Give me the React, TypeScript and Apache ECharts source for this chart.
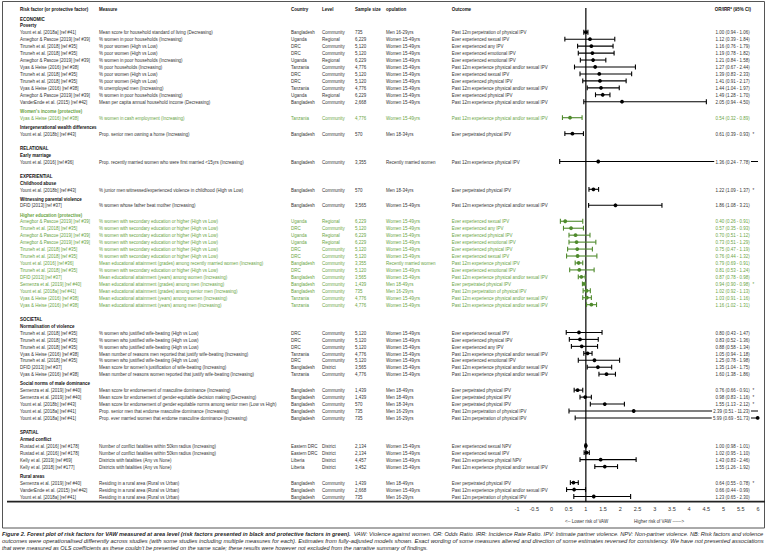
import React, { useEffect, useRef } from "react";
import * as echarts from "echarts";

const sectionNames = ["ECONOMIC", "RELATIONAL", "EXPERIENTIAL", "SOCIETAL", "SPATIAL"];
const subgroupNames = [
  "Poverty", "Women's income (protective)", "Intergenerational wealth differences", "Early marriage",
  "Childhood abuse", "Witnessing parental violence", "Higher education (protective)",
  "Normalisation of violence", "Social norms of male dominance", "Armed conflict", "Rural areas",
];
const subgroupSection = [0, 0, 0, 1, 2, 2, 2, 3, 3, 4, 4];
const subgroupSizes = [11, 1, 1, 1, 1, 1, 13, 7, 5, 4, 3];
const subgroupProtective = [false, true, false, false, false, false, true, false, false, false, false];

const headers = ["Risk factor (or protective factor)", "Measure", "Country", "Level", "Sample size", "opulation", "Outcome", "OR/IRR* (95% CI)"];

const studies = [
  "Yount et al. [2018a] [ref #41]", "Amegbor & Pascoe [2019] [ref #39]", "Tiruneh et al. [2018] [ref #35]", "Tiruneh et al. [2018] [ref #35]",
  "Amegbor & Pascoe [2019] [ref #39]", "Vyas & Heise (2016) [ref #38]", "Tiruneh et al. [2018] [ref #35]", "Tiruneh et al. [2018] [ref #35]",
  "Vyas & Heise (2016) [ref #38]", "Amegbor & Pascoe [2019] [ref #39]", "VanderEnde et al. (2015) [ref #42]",
  "Vyas & Heise (2016) [ref #38]",
  "Yount et al. [2018b] [ref #43]",
  "Yount et al. [2016] [ref #36]",
  "Yount et al. [2018b] [ref #43]",
  "DFID [2013] [ref #37]",
  "Amegbor & Pascoe [2019] [ref #39]", "Tiruneh et al. [2018] [ref #35]", "Amegbor & Pascoe [2019] [ref #39]", "Amegbor & Pascoe [2019] [ref #39]",
  "Tiruneh et al. [2018] [ref #35]", "Tiruneh et al. [2018] [ref #35]", "Yount et al. [2016] [ref #36]", "Tiruneh et al. [2018] [ref #35]",
  "DFID [2013] [ref #37]", "Semenza et al. [2019] [ref #40]", "Yount et al. [2018a] [ref #41]", "Vyas & Heise (2016) [ref #38]",
  "Vyas & Heise (2016) [ref #38]",
  "Tiruneh et al. [2018] [ref #35]", "Tiruneh et al. [2018] [ref #35]", "Tiruneh et al. [2018] [ref #35]", "Vyas & Heise (2016) [ref #38]",
  "Tiruneh et al. [2018] [ref #35]", "DFID [2013] [ref #37]", "Vyas & Heise (2016) [ref #38]",
  "Semenza et al. [2019] [ref #40]", "Semenza et al. [2019] [ref #40]", "Yount et al. [2018b] [ref #43]", "Yount et al. [2018a] [ref #41]",
  "Yount et al. [2018a] [ref #41]",
  "Rustad et al. [2016] [ref #178]", "Rustad et al. [2016] [ref #178]", "Kelly et al. [2019] [ref #69]", "Kelly et al. [2018] [ref #177]",
  "Semenza et al. [2019] [ref #40]", "VanderEnde et al. (2015) [ref #42]", "Yount et al. [2018a] [ref #41]",
];

const measures = [
  "Mean score for household standard of living (Decreasing)", "% women in poor households (Increasing)", "% poor women (High vs Low)",
  "% poor women (High vs Low)", "% women in poor households (Increasing)", "% poor households (Increasing)", "% poor women (High vs Low)",
  "% poor women (High vs Low)", "% unemployed men (Increasing)", "% women in poor households (Increasing)",
  "Mean per capita annual household income (Decreasing)",
  "% women in cash employment (Increasing)",
  "Prop. senior men owning a home (Increasing)",
  "Prop. recently married women who were first married <15yrs (Increasing)",
  "% junior men witnessed/experienced violence in childhood (High vs Low)",
  "% women whose father beat mother (Increasing)",
  "% women with secondary education or higher (High vs Low)", "% women with secondary education or higher (High vs Low)",
  "% women with secondary education or higher (High vs Low)", "% women with secondary education or higher (High vs Low)",
  "% women with secondary education or higher (High vs Low)", "% women with secondary education or higher (High vs Low)",
  "Mean educational attainment (grades) among recently married women (Increasing)",
  "% women with secondary education or higher (High vs Low)",
  "Mean educational attainment (years) among women (Increasing)", "Mean educational attainment (grades) among men (Increasing)",
  "Mean educational attainment (grades) among senior men (Increasing)", "Mean educational attainment (years) among women (Increasing)",
  "Mean educational attainment (years) among men (Increasing)",
  "% women who justified wife-beating (High vs Low)", "% women who justified wife-beating (High vs Low)",
  "% women who justified wife-beating (High vs Low)", "Mean number of reasons men reported that justify wife-beating (Increasing)",
  "% women who justified wife-beating (High vs Low)", "Mean score for women's justification of wife-beating (Increasing)",
  "Mean number of reasons women reported that justify wife-beating (Increasing)",
  "Mean score for endorsement of masculine dominance (Increasing)",
  "Mean score for endorsement of gender-equitable decision making (Decreasing)",
  "Mean score for endorsement of gender equitable norms among senior men (Low vs High)",
  "Prop. senior men that endorse masculine dominance (Increasing)",
  "Prop. ever married women that endorse masculine dominance (Increasing)",
  "Number of conflict fatalities within 50km radius (Increasing)", "Number of conflict fatalities within 50km radius (Increasing)",
  "Districts with fatalities (Any vs None)", "Districts with fatalities (Any vs None)",
  "Residing in a rural area (Rural vs Urban)", "Residing in a rural area (Rural vs Urban)", "Residing in a rural area (Rural vs Urban)",
];

const countries = [
  "Bangladesh", "Uganda", "DRC", "DRC", "Uganda", "Tanzania", "DRC", "DRC", "Tanzania", "Uganda", "Bangladesh",
  "Tanzania", "Bangladesh", "Bangladesh", "Bangladesh", "Bangladesh",
  "Uganda", "DRC", "Uganda", "Uganda", "DRC", "DRC", "Bangladesh", "DRC", "Bangladesh", "Bangladesh", "Bangladesh", "Tanzania", "Tanzania",
  "DRC", "DRC", "DRC", "Tanzania", "DRC", "Bangladesh", "Tanzania",
  "Bangladesh", "Bangladesh", "Bangladesh", "Bangladesh", "Bangladesh",
  "Eastern DRC", "Eastern DRC", "Liberia", "Liberia",
  "Bangladesh", "Bangladesh", "Bangladesh",
];

const levels = [
  "Community", "Regional", "Community", "Community", "Regional", "Community", "Community", "Community", "Community", "Regional", "Community",
  "Community", "Community", "Community", "Community", "Community",
  "Regional", "Community", "Regional", "Regional", "Community", "Community", "Community", "Community", "Community", "Community", "Community", "Community", "Community",
  "Community", "Community", "Community", "Community", "Community", "District", "Community",
  "Community", "Community", "Community", "Community", "Community",
  "District", "District", "District", "District",
  "Community", "Community", "Community",
];

const sampleSizes = [
  735, 6229, 5120, 5120, 6229, 4776, 5120, 5120, 4776, 6229, 2668,
  4776, 570, 3355, 570, 3565,
  6229, 5120, 6229, 6229, 5120, 5120, 3355, 5120, 3565, 1439, 735, 4776, 4776,
  5120, 5120, 5120, 4776, 5120, 3565, 4776,
  1439, 1439, 570, 735, 735,
  2134, 2134, 4457, 3452,
  1439, 2668, 735,
];

const populations = [
  "Men 16-29yrs", "Women 15-49yrs", "Women 15-49yrs", "Women 15-49yrs", "Women 15-49yrs", "Women 15-49yrs", "Women 15-49yrs",
  "Women 15-49yrs", "Women 15-49yrs", "Women 15-49yrs", "Women 15-49yrs",
  "Women 15-49yrs", "Men 18-34yrs", "Recently married women", "Men 18-34yrs", "Women 15-49yrs",
  "Women 15-49yrs", "Women 15-49yrs", "Women 15-49yrs", "Women 15-49yrs", "Women 15-49yrs", "Women 15-49yrs", "Recently married women",
  "Women 15-49yrs", "Women 15-49yrs", "Men 18-49yrs", "Men 16-29yrs", "Women 15-49yrs", "Women 15-49yrs",
  "Women 15-49yrs", "Women 15-49yrs", "Women 15-49yrs", "Women 15-49yrs", "Women 15-49yrs", "Women 15-49yrs", "Women 15-49yrs",
  "Men 18-49yrs", "Men 18-49yrs", "Men 18-34yrs", "Men 16-29yrs", "Men 16-29yrs",
  "Women 15-49yrs", "Women 15-49yrs", "Women 15-49yrs", "Women 15-49yrs",
  "Men 18-49yrs", "Women 15-49yrs", "Men 16-29yrs",
];

const outcomes = [
  "Past 12m perpetration of physical IPV", "Ever experienced sexual IPV", "Ever experienced any IPV", "Ever experienced emotional IPV",
  "Ever experienced emotional IPV", "Past 12m experience physical and/or sexual IPV", "Ever experienced sexual IPV", "Ever experienced physical IPV",
  "Past 12m experience physical and/or sexual IPV", "Ever experienced physical IPV", "Past 12m experience physical and/or sexual IPV",
  "Past 12m experience physical and/or sexual IPV",
  "Ever perpetrated physical IPV",
  "Past 12m experience physical IPV",
  "Ever perpetrated physical IPV",
  "Past 12m experience physical and/or sexual IPV",
  "Ever experienced sexual IPV", "Ever experienced any IPV", "Ever experienced physical IPV", "Ever experienced emotional IPV",
  "Ever experienced physical IPV", "Ever experienced sexual IPV", "Past 12m experience physical IPV", "Ever experienced emotional IPV",
  "Past 12m experience physical and/or sexual IPV", "Ever perpetrated physical IPV", "Past 12m perpetration of physical IPV",
  "Past 12m experience physical and/or sexual IPV", "Past 12m experience physical and/or sexual IPV",
  "Ever experienced sexual IPV", "Ever experienced physical IPV", "Ever experienced any IPV", "Past 12m experience physical and/or sexual IPV",
  "Ever experienced emotional IPV", "Past 12m experience physical and/or sexual IPV", "Past 12m experience physical and/or sexual IPV",
  "Ever perpetrated physical IPV", "Ever perpetrated physical IPV", "Ever perpetrated physical IPV", "Past 12m perpetration of physical IPV",
  "Past 12m perpetration of physical IPV",
  "Ever experienced sexual NPV", "Ever experienced sexual IPV", "Past 12m experience physical NPV", "Past 12m experience physical and/or sexual IPV",
  "Ever perpetrated physical IPV", "Past 12m experience physical and/or sexual IPV", "Past 12m perpetration of physical IPV",
];

const estimates = [1.00, 1.12, 1.16, 1.19, 1.21, 1.27, 1.39, 1.41, 1.44, 1.49, 2.05, 0.54, 0.61, 1.36, 1.22, 1.86, 0.40, 0.57, 0.70, 0.73, 0.75, 0.76, 0.79, 0.81, 0.87, 0.94, 1.02, 1.03, 1.16, 0.80, 0.83, 0.88, 1.05, 1.25, 1.35, 1.60, 0.76, 0.98, 1.55, 2.39, 5.99, 1.00, 1.02, 1.43, 1.55, 0.64, 0.66, 1.23];
const lowerCI = [0.94, 0.39, 0.76, 0.78, 0.84, 0.67, 0.83, 0.91, 1.04, 1.28, 0.94, 0.32, 0.39, 0.24, 1.09, 1.08, 0.26, 0.35, 0.51, 0.51, 0.47, 0.44, 0.69, 0.53, 0.78, 0.90, 0.92, 0.91, 1.02, 0.43, 0.52, 0.58, 0.94, 0.78, 1.04, 1.38, 0.66, 0.83, 1.13, 0.51, 0.69, 0.98, 0.95, 0.83, 1.26, 0.55, 0.44, 0.65];
const upperCI = [1.06, 1.84, 1.79, 1.82, 1.58, 2.44, 2.33, 2.17, 1.97, 1.70, 4.50, 0.89, 0.93, 7.78, 1.37, 3.21, 0.91, 0.93, 1.12, 1.29, 1.19, 1.32, 0.91, 1.24, 0.98, 0.98, 1.13, 1.16, 1.31, 1.47, 1.36, 1.34, 1.18, 1.98, 1.75, 1.86, 0.91, 1.16, 2.12, 11.23, 51.73, 1.01, 1.10, 2.46, 1.92, 0.78, 0.99, 2.30];
const irrFlag = [0, 0, 0, 0, 0, 0, 0, 0, 0, 0, 0, 0, 1, 0, 1, 0, 0, 0, 0, 0, 0, 0, 0, 0, 0, 1, 0, 0, 0, 0, 0, 0, 0, 0, 0, 0, 1, 1, 1, 0, 0, 0, 0, 0, 0, 1, 0, 0];

const xTicksMin = -1;
const xTicksMax = 6;
const xTickStep = 0.5;

const captionBold = "Figure 2. Forest plot of risk factors for VAW measured at area level (risk factors presented in black and protective factors in green).";
const captionLine1 = "  VAW: Violence against women. OR: Odds Ratio. IRR: Incidence Rate Ratio. IPV: Intimate partner violence. NPV: Non-partner violence. NB: Risk factors and violence";
const captionLine2 = "outcomes were operationalised differently across studies (with some studies including multiple measures for each). Estimates from fully-adjusted models shown. Exact wording of some measures altered and direction of some estimates reversed for consistency. We have not presented associations";
const captionLine3 = "that were measured as OLS coefficients as these couldn't be presented on the same scale; these results were however not excluded from the narrative summary of findings.";
const legendLower = "<-- Lower risk of VAW";
const legendHigher = "Higher risk of VAW ------>";

const FONT = "Liberation Sans";
const FS = 5.6;
const TEXT = "#333333";
const DARK = "#111111";
const GREEN_TEXT = "#6aa544";
const GREEN_MARK = "#4f8a2c";

const Y_MIN = -1.5;
const Y_MAX = 69.55;
const HEADER_POS = -1.34;

type Line = { kind: string; pos: number; text?: string; row?: number; green?: boolean };

function buildLayout() {
  const lines: Line[] = [{ kind: "header", pos: HEADER_POS }];
  const rowPos: number[] = [];
  const rowGreen: boolean[] = [];
  let pos = 0;
  let prev = "";
  let row = 0;
  let lastSection = -1;
  subgroupNames.forEach((name, g) => {
    const sec = subgroupSection[g];
    if (sec !== lastSection) {
      pos = prev === "" ? 0 : pos + 2;
      lines.push({ kind: "section", pos, text: sectionNames[sec] });
      prev = "section";
      lastSection = sec;
    }
    pos += prev === "section" ? 1 : 1.3;
    lines.push({ kind: "sub", pos, text: name, green: subgroupProtective[g] });
    for (let k = 0; k < subgroupSizes[g]; k++) {
      pos += 1;
      lines.push({ kind: "row", pos, row, green: subgroupProtective[g] });
      rowPos[row] = pos;
      rowGreen[row] = subgroupProtective[g];
      row++;
    }
    prev = "row";
  });
  return { lines, rowPos, rowGreen };
}

export default function App() {
  const ref = useRef<HTMLDivElement>(null);
  useEffect(() => {
    const el = ref.current!;
    const chart = echarts.init(el, null, { renderer: "svg" });
    const ctx = document.createElement("canvas").getContext("2d")!;
    const measure = (t: string, font: string) => {
      ctx.font = font;
      return ctx.measureText(t).width;
    };
    const sx = 70 / measure("Amegbor & Pascoe [2019] [ref #39]", `${FS}px "${FONT}"`);

    const { lines, rowPos, rowGreen } = buildLayout();
    const colX = [20, 99, 291, 322, 355, 386, 451.7];
    const orRight = 751;

    const txt = (x: number, y: number, text: string, o: any = {}) => ({
      type: "text",
      x,
      y,
      scaleX: sx,
      style: {
        text,
        x: 0,
        y: 0,
        fontSize: FS,
        fontFamily: FONT,
        fontWeight: o.bold ? "bold" : "normal",
        fill: o.fill || TEXT,
        align: o.align || "left",
        verticalAlign: "middle",
        backgroundColor: o.bg,
        padding: o.bg ? [0, 1.5] : 0,
      },
    });

    const fmt = (v: number) => v.toFixed(2);

    const ciData = estimates.map((e, i) => [e, lowerCI[i], upperCI[i], rowPos[i], rowGreen[i] ? 1 : 0]);

    const option: any = {
      animation: false,
      backgroundColor: "#ffffff",
      grid: { left: 517, right: 9, top: 7.9, bottom: 53.3, containLabel: false },
      xAxis: {
        type: "value",
        min: xTicksMin,
        max: xTicksMax,
        interval: xTickStep,
        axisLine: { show: false },
        axisTick: { show: false },
        splitLine: { show: false },
        axisLabel: { fontSize: 5.5, fontFamily: FONT, color: TEXT, margin: 4 },
      },
      yAxis: { type: "value", inverse: true, min: Y_MIN, max: Y_MAX, show: false },
      series: [
        {
          type: "line",
          data: [[1, Y_MIN], [1, Y_MAX]],
          showSymbol: false,
          symbol: "none",
          lineStyle: { color: "#000", width: 1.2 },
          silent: true,
          z: 1,
        },
        {
          type: "custom",
          clip: false,
          z: 2,
          encode: { x: [0, 1, 2], y: 3 },
          data: ciData,
          renderItem: (params: any, api: any) => {
            const est = api.value(0);
            const lo = api.value(1);
            const hi = api.value(2);
            const y = api.value(3);
            const green = api.value(4) === 1;
            const color = green ? GREEN_MARK : "#000000";
            const pe = api.coord([est, y]);
            const yy = pe[1];
            const xl = api.coord([Math.max(lo, xTicksMin), y])[0];
            const xh = api.coord([Math.min(hi, xTicksMax), y])[0];
            const cap = 2.4;
            const st = { stroke: color, lineWidth: 1.1 };
            const children: any[] = [{ type: "line", shape: { x1: xl, y1: yy, x2: xh, y2: yy }, style: st }];
            if (lo >= xTicksMin) children.push({ type: "line", shape: { x1: xl, y1: yy - cap, x2: xl, y2: yy + cap }, style: st });
            if (hi <= xTicksMax) children.push({ type: "line", shape: { x1: xh, y1: yy - cap, x2: xh, y2: yy + cap }, style: st });
            children.push({ type: "circle", shape: { cx: pe[0], cy: yy, r: 1.9 }, style: { fill: color } });
            return { type: "group", children };
          },
        },
        {
          type: "custom",
          clip: false,
          z: 5,
          encode: { x: 0, y: 1 },
          data: lines.map((l) => [1, l.pos]),
          renderItem: (params: any, api: any) => {
            const l = lines[params.dataIndex];
            const y = api.coord([1, api.value(1)])[1];
            const children: any[] = [];
            if (l.kind === "header") {
              headers.forEach((h, k) => {
                if (k < 7) children.push(txt(colX[k], y, h, { bold: true, fill: DARK }));
                else children.push(txt(orRight, y, h, { bold: true, fill: DARK, align: "right" }));
              });
            } else if (l.kind === "section") {
              children.push(txt(colX[0], y, l.text!, { bold: true, fill: DARK }));
            } else if (l.kind === "sub") {
              children.push(txt(colX[0], y, l.text!, { bold: true, fill: l.green ? GREEN_TEXT : DARK }));
            } else {
              const r = l.row!;
              const fill = l.green ? GREEN_TEXT : TEXT;
              const cells = [
                studies[r], measures[r], countries[r], levels[r],
                sampleSizes[r].toLocaleString("en-US"), populations[r], outcomes[r],
              ];
              cells.forEach((c, k) => children.push(txt(colX[k], y, c, { fill })));
              const orText = `${fmt(estimates[r])} (${fmt(lowerCI[r])} - ${fmt(upperCI[r])})`;
              children.push(txt(orRight, y, orText, { fill, align: "right", bg: "#ffffff" }));
              if (irrFlag[r]) children.push(txt(orRight + 1.5, y, "*", { fill }));
            }
            return { type: "group", children };
          },
        },
      ],
    };

    // caption
    const capFS = 6.2;
    const capFontB = `italic bold ${capFS}px "${FONT}"`;
    const capFontN = `italic ${capFS}px "${FONT}"`;
    const wb = measure(captionBold, capFontB);
    const w1 = measure(captionLine1, capFontN);
    const w2 = measure(captionLine2, capFontN);
    const w3 = measure(captionLine3, capFontN);
    const s1 = 761 / (wb + w1);
    const s2 = 761 / w2;
    const s3 = 426 / w3;
    const CAP = "#1f1f1f";
    const capText = (x: number, y: number, s: number, text: string, bold: boolean) => ({
      type: "text",
      x,
      y,
      scaleX: s,
      style: {
        text,
        fontSize: capFS,
        fontFamily: FONT,
        fontStyle: "italic",
        fontWeight: bold ? "bold" : "normal",
        fill: CAP,
        align: "left",
        verticalAlign: "middle",
      },
    });

    option.graphic = [
      { type: "rect", shape: { x: 2.5, y: 1.5, width: 762, height: 526.5 }, style: { fill: "none", stroke: "#555", lineWidth: 1 }, silent: true },
      { type: "line", shape: { x1: 7, y1: 501.7, x2: 765, y2: 501.7 }, style: { stroke: "#222", lineWidth: 1.8 }, silent: true },
      {
        type: "text", x: 565, y: 520.7, scaleX: sx,
        style: { text: legendLower, fontSize: FS, fontFamily: FONT, fill: TEXT, verticalAlign: "middle" },
      },
      {
        type: "text", x: 634, y: 520.7, scaleX: sx,
        style: { text: legendHigher, fontSize: FS, fontFamily: FONT, fill: TEXT, verticalAlign: "middle" },
      },
      capText(2, 534.3, s1, captionBold, true),
      capText(2 + wb * s1, 534.3, s1, captionLine1, false),
      capText(2, 541, s2, captionLine2, false),
      capText(2, 547.5, s3, captionLine3, false),
    ];

    chart.setOption(option);
    return () => chart.dispose();
  }, []);
  return (
    <div
      ref={ref}
      style={{ position: "absolute", left: 0, top: 0, width: 767, height: 555, background: "#fff" }}
    />
  );
}
